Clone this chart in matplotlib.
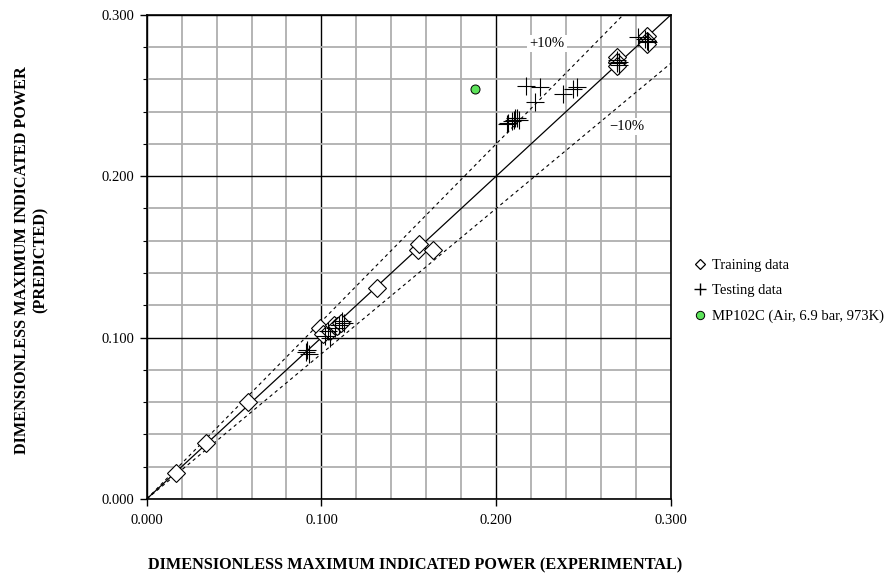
import matplotlib.pyplot as plt
import numpy as np
from matplotlib.lines import Line2D
from matplotlib.ticker import MultipleLocator, FormatStrFormatter

plt.rcParams['font.family'] = ['Liberation Serif', 'DejaVu Serif']

# training set (experimental, predicted)
train_x = [0.017, 0.034, 0.058, 0.099, 0.101, 0.105, 0.107, 0.109, 0.111, 0.132,
           0.155, 0.156, 0.164, 0.269, 0.269, 0.269, 0.286, 0.286, 0.286]
train_y = [0.016, 0.035, 0.060, 0.106, 0.102, 0.104, 0.108, 0.107, 0.109, 0.131,
           0.154, 0.158, 0.154, 0.274, 0.271, 0.268, 0.287, 0.284, 0.282]

# testing set
test_x = [0.091, 0.092, 0.093, 0.102, 0.104, 0.105, 0.108, 0.110, 0.112, 0.113,
          0.206, 0.207, 0.209, 0.210, 0.211, 0.212, 0.213, 0.217, 0.222, 0.225,
          0.238, 0.244, 0.246, 0.269, 0.269, 0.270, 0.270, 0.281, 0.285, 0.286, 0.287]
test_y = [0.091, 0.092, 0.090, 0.101, 0.104, 0.100, 0.106, 0.108, 0.110, 0.109,
          0.232, 0.233, 0.234, 0.235, 0.236, 0.236, 0.235, 0.256, 0.246, 0.255,
          0.251, 0.254, 0.255, 0.270, 0.272, 0.271, 0.269, 0.286, 0.285, 0.284, 0.283]

# single case run outside the training range
mp_x = [0.188]
mp_y = [0.254]

fig = plt.figure(figsize=(8.96, 5.81), dpi=100)
ax = fig.add_axes([0.1637, 0.1411, 0.5852, 0.8336])

ax.set_xlim(0, 0.3)
ax.set_ylim(0, 0.3)

# grid: grey every 0.02, black every 0.1
ax.xaxis.set_major_locator(MultipleLocator(0.1))
ax.yaxis.set_major_locator(MultipleLocator(0.1))
ax.xaxis.set_minor_locator(MultipleLocator(0.02))
ax.yaxis.set_minor_locator(MultipleLocator(0.02))
ax.grid(which='minor', color='#afafaf', lw=1.3, zorder=0)
ax.grid(which='major', color='black', lw=1.0, zorder=0.5)
ax.set_axisbelow(True)

ax.xaxis.set_major_formatter(FormatStrFormatter('%.3f'))
ax.yaxis.set_major_formatter(FormatStrFormatter('%.3f'))
ax.tick_params(which='major', direction='out', length=5, width=1, labelsize=10.5, pad=4)
ax.tick_params(axis='x', which='major', pad=6)
ax.tick_params(axis='y', which='minor', direction='out', length=3, width=0.8)
ax.tick_params(axis='x', which='minor', length=0)
for sp in ax.spines.values():
    sp.set_linewidth(1.2)

# parity line and +/-10% bands
line = np.array([0, 0.3])
ax.plot(line, line, color='black', lw=0.9, zorder=2)
ax.plot(line, 1.1 * line, color='black', lw=0.8, ls=(0, (3, 3)), zorder=2)
ax.plot(line, 0.9 * line, color='black', lw=0.8, ls=(0, (3, 3)), zorder=2)

ax.text(0.229, 0.282, '+10%', fontsize=10.5, ha='center', va='center', zorder=3,
        bbox=dict(facecolor='white', edgecolor='none', pad=1.5))
ax.text(0.275, 0.2305, '\u221210%', fontsize=10.5, ha='center', va='center', zorder=3,
        bbox=dict(facecolor='white', edgecolor='none', pad=1.5))

ax.plot(train_x, train_y, ls='none', marker='D', ms=9, mfc='white', mec='black',
        mew=0.8, zorder=4)
ax.plot(test_x, test_y, ls='none', marker='+', ms=13, mec='black', mew=0.8, zorder=5)
ax.plot(mp_x, mp_y, ls='none', marker='o', ms=6.5, mfc='#5de35a', mec='black',
        mew=0.7, zorder=5)

handles = [
    Line2D([], [], ls='none', marker='D', ms=5.5, mfc='white', mec='black', mew=0.9),
    Line2D([], [], ls='none', marker='+', ms=8, mec='black', mew=1.0),
    Line2D([], [], ls='none', marker='o', ms=6, mfc='#5de35a', mec='black', mew=0.7),
]
labels = ['Training data', 'Testing data', 'MP102C (Air, 6.9 bar, 973K)']
ax.legend(handles, labels, loc='center left', bbox_to_anchor=(1.022, 0.43),
          frameon=False, fontsize=10.5, handlelength=0.6, handletextpad=0.55,
          labelspacing=0.85)

fig.text(0.463, 0.027, 'DIMENSIONLESS MAXIMUM INDICATED POWER (EXPERIMENTAL)',
         fontsize=11.7, fontweight='bold', ha='center', va='center')
fig.text(0.035, 0.5525, 'DIMENSIONLESS MAXIMUM INDICATED POWER\n(PREDICTED)',
         fontsize=11.7, fontweight='bold', ha='center', va='center', rotation=90,
         multialignment='center')

fig.savefig('out.png', dpi=100)
